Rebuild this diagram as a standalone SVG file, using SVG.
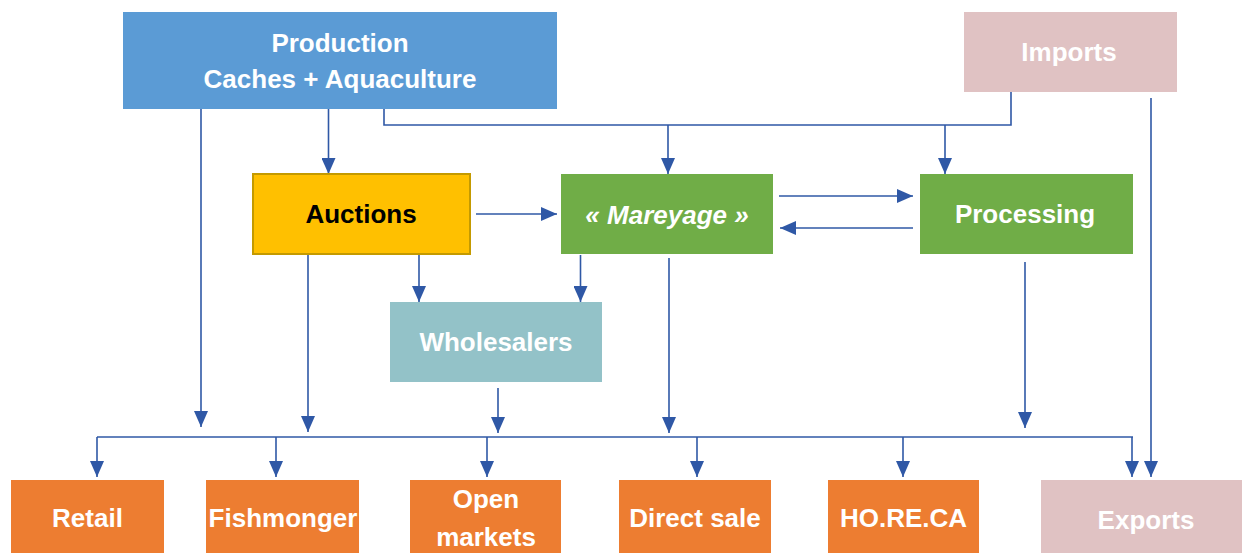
<svg xmlns="http://www.w3.org/2000/svg" width="1242" height="553" viewBox="0 0 1242 553">
<style>
.t{font-family:"Liberation Sans",Arial,sans-serif;font-weight:bold;font-size:26px;fill:#fff;text-anchor:middle}
.dark{fill:#000}
.it{font-style:italic}
.c{fill:none;stroke:#2F58A6;stroke-width:1.6}
.blue{fill:#5B9BD5}
.pink{fill:#E0C2C3}
.green{fill:#70AD47}
.yellow{fill:#FFC000;stroke:#C49A00;stroke-width:2}
.teal{fill:#93C2C8}
.orange{fill:#ED7D31}
</style>
<defs>
<marker id="ah" markerUnits="userSpaceOnUse" markerWidth="16" markerHeight="14" refX="16" refY="7" orient="auto" viewBox="0 0 16 14">
<path d="M0,0 L16,7 L0,14 z" fill="#2F58A6"/>
</marker>
</defs>
<rect width="1242" height="553" fill="#fff"/>
<g id="connectors">
<path class="c" d="M201,109 V427" marker-end="url(#ah)"/>
<path class="c" d="M328.5,109 V174" marker-end="url(#ah)"/>
<path class="c" d="M384,109 V125 H1011 V92"/>
<path class="c" d="M668,125 V174" marker-end="url(#ah)"/>
<path class="c" d="M945,125 V174" marker-end="url(#ah)"/>
<path class="c" d="M476,214 H557" marker-end="url(#ah)"/>
<path class="c" d="M779,196 H913" marker-end="url(#ah)"/>
<path class="c" d="M913,228 H780" marker-end="url(#ah)"/>
<path class="c" d="M308,255 V432" marker-end="url(#ah)"/>
<path class="c" d="M419,255 V302" marker-end="url(#ah)"/>
<path class="c" d="M580.5,255 V302" marker-end="url(#ah)"/>
<path class="c" d="M669,258 V433" marker-end="url(#ah)"/>
<path class="c" d="M498,388 V433" marker-end="url(#ah)"/>
<path class="c" d="M1025,262 V428" marker-end="url(#ah)"/>
<path class="c" d="M1151,98 V477" marker-end="url(#ah)"/>
<path class="c" d="M97,437 H1133"/>
<path class="c" d="M97,437 V477" marker-end="url(#ah)"/>
<path class="c" d="M276,437 V477" marker-end="url(#ah)"/>
<path class="c" d="M487,437 V477" marker-end="url(#ah)"/>
<path class="c" d="M697,437 V477" marker-end="url(#ah)"/>
<path class="c" d="M903,437 V477" marker-end="url(#ah)"/>
<path class="c" d="M1132,437 V477" marker-end="url(#ah)"/>
</g>
<g id="production">
<rect class="blue" x="123" y="12" width="434" height="97"/>
<text class="t" x="340" y="52">Production</text>
<text class="t" x="340" y="88">Caches + Aquaculture</text>
</g>
<g id="imports">
<rect class="pink" x="964" y="12" width="213" height="80"/>
<text class="t" x="1069" y="61">Imports</text>
</g>
<g id="auctions">
<rect class="yellow" x="253" y="174" width="217" height="80"/>
<text class="t dark" x="361" y="223">Auctions</text>
</g>
<g id="mareyage">
<rect class="green" x="561" y="174" width="212" height="80"/>
<text class="t it" x="667" y="224">« Mareyage »</text>
</g>
<g id="processing">
<rect class="green" x="920" y="174" width="213" height="80"/>
<text class="t" x="1025" y="223">Processing</text>
</g>
<g id="wholesalers">
<rect class="teal" x="390" y="302" width="212" height="80"/>
<text class="t" x="496" y="351">Wholesalers</text>
</g>
<g id="retail">
<rect class="orange" x="11" y="480" width="153" height="80"/>
<text class="t" x="87.5" y="527">Retail</text>
</g>
<g id="fishmonger">
<rect class="orange" x="206" y="480" width="153" height="80"/>
<text class="t" x="283" y="527">Fishmonger</text>
</g>
<g id="open-markets">
<rect class="orange" x="410" y="480" width="151" height="80"/>
<text class="t" x="486" y="508">Open</text>
<text class="t" x="486" y="546">markets</text>
</g>
<g id="direct-sale">
<rect class="orange" x="619" y="480" width="152" height="80"/>
<text class="t" x="695" y="527">Direct sale</text>
</g>
<g id="horeca">
<rect class="orange" x="828" y="480" width="151" height="80"/>
<text class="t" x="903.5" y="527">HO.RE.CA</text>
</g>
<g id="exports">
<rect class="pink" x="1041" y="480" width="210" height="80"/>
<text class="t" x="1146" y="529">Exports</text>
</g>
</svg>
